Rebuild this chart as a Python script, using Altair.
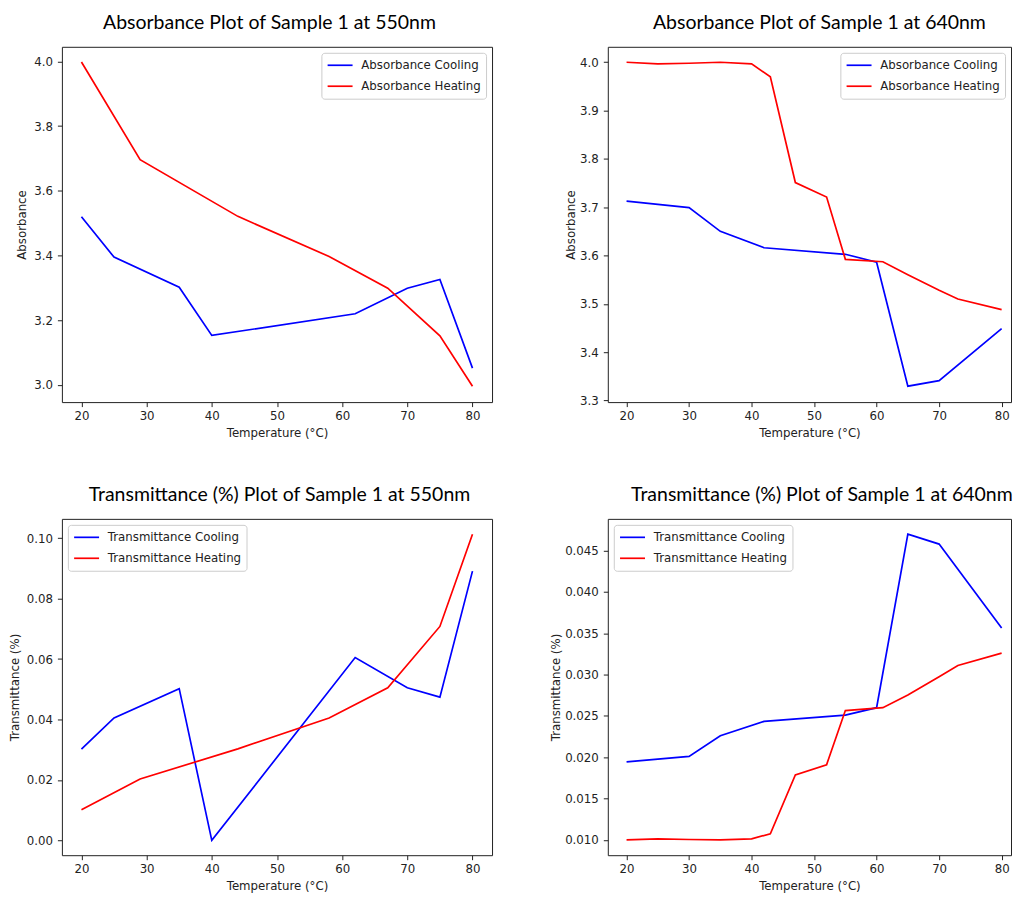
import altair as alt
import pandas as pd

# ---------------- data ----------------
# Absorbance at 550 nm
abs550_cool_t = [20, 25, 35, 40, 62, 70, 75, 80]
abs550_cool_v = [3.520, 3.395, 3.302, 3.153, 3.220, 3.299, 3.326, 3.052]
abs550_heat_t = [20, 29, 44, 58, 67, 75, 80]
abs550_heat_v = [3.998, 3.696, 3.521, 3.397, 3.299, 3.152, 2.996]

# Absorbance at 640 nm
abs640_cool_t = [20, 30, 35, 42, 55, 60, 65, 70, 80]
abs640_cool_v = [3.7125, 3.699, 3.650, 3.616, 3.6025, 3.586, 3.3295, 3.341, 3.4485]
abs640_heat_t = [20, 25, 30, 35, 40, 43, 47, 52, 55, 61, 65, 70, 73, 80]
abs640_heat_v = [4.000, 3.9966, 3.998, 4.000, 3.9966, 3.970, 3.751, 3.721,
                 3.592, 3.587, 3.560, 3.528, 3.510, 3.488]

# Transmittance at 550 nm
tr550_cool_t = [20, 25, 35, 40, 62, 70, 75, 80]
tr550_cool_v = [0.0302, 0.0405, 0.0502, 0.0000, 0.0605, 0.0505, 0.0474, 0.0891]
tr550_heat_t = [20, 29, 44, 58, 67, 75, 80]
tr550_heat_v = [0.0101, 0.0203, 0.0303, 0.0405, 0.0505, 0.0708, 0.1013]

# Transmittance at 640 nm
tr640_cool_t = [20, 30, 35, 42, 55, 60, 65, 70, 80]
tr640_cool_v = [0.01945, 0.0201, 0.0226, 0.02435, 0.0251, 0.0260, 0.0470, 0.0458, 0.03565]
tr640_heat_t = [20, 25, 30, 35, 40, 43, 47, 52, 55, 61, 65, 70, 73, 80]
tr640_heat_v = [0.0100, 0.01012, 0.01005, 0.0100, 0.01012, 0.01075, 0.01785, 0.0191,
                0.02565, 0.0260, 0.02755, 0.02975, 0.0311, 0.0326]

# tick labels
x_ticks = [20, 30, 40, 50, 60, 70, 80]
abs550_ticks = [3.0, 3.2, 3.4, 3.6, 3.8, 4.0]
abs640_ticks = [3.3, 3.4, 3.5, 3.6, 3.7, 3.8, 3.9, 4.0]
tr550_ticks = [0.00, 0.02, 0.04, 0.06, 0.08, 0.10]
tr640_ticks = [0.010, 0.015, 0.020, 0.025, 0.030, 0.035, 0.040, 0.045]

LABEL_FONT = "DejaVu Sans"
FS = 11.8


def panel(title, ytitle, series, xdom, ydom, yticks, yfmt, width, height,
          legend_orient, ytitle_pad, title_dx, xlabel_pad, xtitle_pad):
    rows = []
    for name, ts, vs in series:
        for t, v in zip(ts, vs):
            rows.append({"Temperature": t, "Value": v, "Series": name})
    df = pd.DataFrame(rows)
    names = [s[0] for s in series]
    return alt.Chart(df).mark_line(strokeWidth=1.7, clip=True).encode(
        x=alt.X("Temperature:Q",
                scale=alt.Scale(domain=xdom, nice=False, zero=False),
                axis=alt.Axis(title="Temperature (°C)", values=x_ticks, format="d",
                              minExtent=20, maxExtent=20, titlePadding=xtitle_pad,
                              labelPadding=xlabel_pad)),
        y=alt.Y("Value:Q",
                scale=alt.Scale(domain=ydom, nice=False, zero=False),
                axis=alt.Axis(title=ytitle, values=yticks, format=yfmt,
                              minExtent=20, maxExtent=20, titlePadding=ytitle_pad,
                              labelPadding=5)),
        color=alt.Color("Series:N",
                        scale=alt.Scale(domain=names, range=["#0000ff", "#ff0000"]),
                        sort=names,
                        legend=alt.Legend(title=None, orient=legend_orient)),
    ).properties(
        width=width, height=height,
        title=alt.TitleParams(title, dx=title_dx),
    )


p1 = panel("Absorbance Plot of Sample 1 at 550nm", "Absorbance",
           [("Absorbance Cooling", abs550_cool_t, abs550_cool_v),
            ("Absorbance Heating", abs550_heat_t, abs550_heat_v)],
           [17, 83], [2.947, 4.045], abs550_ticks, ".1f", 431, 356,
           "top-right", 14.7, -7.5, 4, 5.5)
p2 = panel("Absorbance Plot of Sample 1 at 640nm", "Absorbance",
           [("Absorbance Cooling", abs640_cool_t, abs640_cool_v),
            ("Absorbance Heating", abs640_heat_t, abs640_heat_v)],
           [17, 81.5], [3.2965, 4.032], abs640_ticks, ".1f", 404, 356,
           "top-right", 11.5, 10, 4, 5.5)
p3 = panel("Transmittance (%) Plot of Sample 1 at 550nm", "Transmittance (%)",
           [("Transmittance Cooling", tr550_cool_t, tr550_cool_v),
            ("Transmittance Heating", tr550_heat_t, tr550_heat_v)],
           [17, 83], [-0.0049, 0.1064], tr550_ticks, ".2f", 431, 337,
           "top-left", 21.9, 2.5, 4, 5)
p4 = panel("Transmittance (%) Plot of Sample 1 at 640nm", "Transmittance (%)",
           [("Transmittance Cooling", tr640_cool_t, tr640_cool_v),
            ("Transmittance Heating", tr640_heat_t, tr640_heat_v)],
           [17, 81.5], [0.00815, 0.04885], tr640_ticks, ".3f", 404, 337,
           "top-left", 26.2, 12.5, 4, 5)

chart = alt.concat(
    p1, p2, p3, p4, columns=2, spacing={"row": 117, "column": 116},
    bounds="flush", align="each",
).resolve_scale(
    color="independent", x="independent", y="independent"
).resolve_legend(
    color="independent"
).properties(
    padding={"left": 0, "top": 4, "right": 0, "bottom": 0},
    background="white",
).configure_view(
    stroke="#222", strokeWidth=1
).configure_axis(
    grid=False, domain=False,
    labelFont=LABEL_FONT, labelFontSize=FS, labelColor="#222",
    titleFont=LABEL_FONT, titleFontSize=FS, titleColor="#222", titleFontWeight="normal",
    tickColor="#222", tickSize=4.5, tickWidth=1,
).configure_title(
    font="Lato", fontSize=19.5, fontWeight="normal", color="#000",
    anchor="middle", baseline="alphabetic", offset=13,
).configure_legend(
    symbolType="M-1,0H3", symbolSize=156.25, symbolStrokeWidth=1.7,
    labelFont=LABEL_FONT, labelFontSize=FS, labelColor="#222",
    labelOffset=20, padding=5, rowPadding=6, offset=6,
    cornerRadius=3, strokeColor="#cccccc", fillColor="rgba(255,255,255,0.8)",
)

chart.save("out.html", embed_options={"renderer": "svg", "actions": False})
